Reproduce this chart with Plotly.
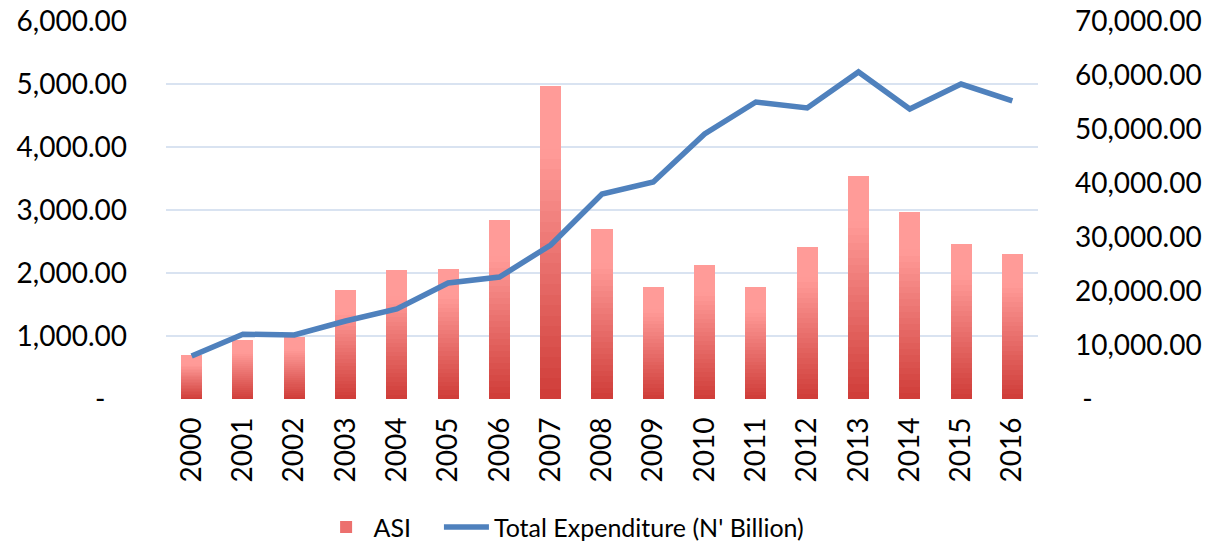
import plotly.graph_objects as go

years = ["2000", "2001", "2002", "2003", "2004", "2005", "2006", "2007", "2008",
         "2009", "2010", "2011", "2012", "2013", "2014", "2015", "2016"]
asi = [700, 940, 990, 1730, 2050, 2063, 2841, 4968, 2698, 1778, 2127, 1778,
       2413, 3540, 2968, 2460, 2302]
total_expenditure = [7960, 12000, 11850, 14440, 16670, 21480, 22590, 28520, 37960,
                     40190, 49070, 55000, 53890, 60560, 53700, 58330, 55190]

left_tickvals = [0, 1000, 2000, 3000, 4000, 5000, 6000]
left_ticktext = ["-   ", "1,000.00", "2,000.00", "3,000.00", "4,000.00", "5,000.00", "6,000.00"]
right_tickvals = [0, 10000, 20000, 30000, 40000, 50000, 60000, 70000]
right_ticktext = [" -", "10,000.00", "20,000.00", "30,000.00", "40,000.00",
                  "50,000.00", "60,000.00", "70,000.00"]

FONT = "Lato"
FS = 28
N_SEG = 30
bottom_rgb = (208, 62, 58)
top_rgb = (255, 155, 152)


def seg_color(i):
    t = i / (N_SEG - 1)
    t = min(1.0, t * 1.25)
    r, g, b = [round(bottom_rgb[k] + (top_rgb[k] - bottom_rgb[k]) * t) for k in range(3)]
    return f"rgb({r},{g},{b})"


fig = go.Figure()

for i in range(N_SEG):
    fig.add_trace(go.Bar(
        x=years,
        y=[v / N_SEG for v in asi],
        marker=dict(color=seg_color(i), line=dict(width=0)),
        name="ASI",
        showlegend=False,
        legendgroup="asi",
        hoverinfo="skip" if i else None,
        width=0.41,
    ))

fig.add_trace(go.Bar(
    x=[None], y=[None], name="ASI", legendgroup="asi",
    marker=dict(color="rgb(236,112,110)", line=dict(width=0)),
    showlegend=True, legend="legend",
))

fig.add_trace(go.Scatter(
    x=years,
    y=total_expenditure,
    name="Total Expenditure (N' Billion)",
    mode="lines",
    line=dict(color="#4F81BD", width=5.5),
    yaxis="y2",
    legend="legend2",
))

legend_common = dict(
    orientation="h",
    xanchor="left",
    y=-0.339,
    yanchor="middle",
    font=dict(size=25),
    itemwidth=45,
    bgcolor="rgba(0,0,0,0)",
)

fig.update_layout(
    width=1209,
    height=547,
    barmode="stack",
    plot_bgcolor="white",
    paper_bgcolor="white",
    font=dict(family=FONT, size=FS, color="black"),
    margin=dict(l=166, r=171, t=21, b=148, autoexpand=False),
    xaxis=dict(
        type="category",
        tickangle=-90,
        tickfont=dict(size=FS),
        showgrid=False,
        showline=False,
        ticks="",
        ticklabelstandoff=12,
        automargin=False,
    ),
    yaxis=dict(
        range=[0, 6000],
        tickvals=left_tickvals,
        ticktext=left_ticktext,
        showgrid=True,
        gridcolor="#D9E3F1",
        gridwidth=1.5,
        zeroline=False,
        ticks="",
        ticklabelstandoff=38,
        automargin=False,
    ),
    yaxis2=dict(
        range=[0, 70000],
        tickvals=right_tickvals,
        ticktext=right_ticktext,
        overlaying="y",
        side="right",
        showgrid=False,
        zeroline=False,
        ticks="",
        ticklabelstandoff=36,
        automargin=False,
    ),
    legend=dict(x=0.175, **legend_common),
    legend2=dict(x=0.313, **legend_common),
)

fig.write_html(
    "out.html",
    config={"displayModeBar": False},
    post_script="document.body.style.margin='0';document.body.style.overflow='hidden';",
)
